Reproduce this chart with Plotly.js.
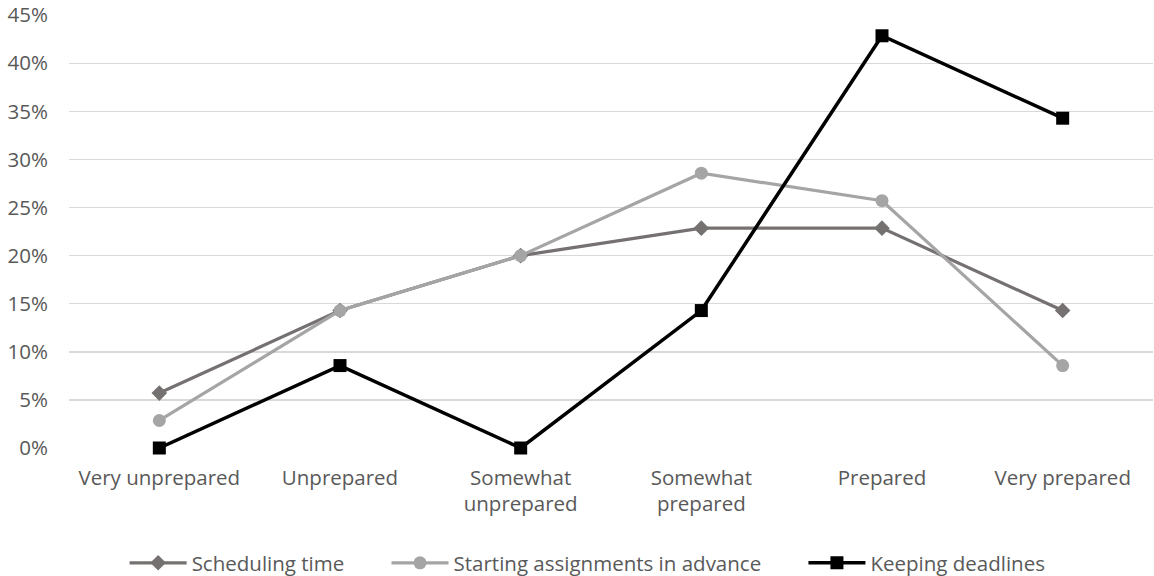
<!DOCTYPE html>
<html><head><meta charset="utf-8">
<script src="https://cdn.plot.ly/plotly-3.0.1.min.js"></script>
<style>html,body{margin:0;padding:0;background:#fff}#chart{width:1154px;height:576px}</style>
</head><body><div id="chart"></div>
<script>
const categories = ["Very unprepared", "Unprepared", "Somewhat<br>unprepared", "Somewhat<br>prepared", "Prepared", "Very prepared"];
const schedulingTime = [0.0571, 0.1429, 0.2000, 0.2286, 0.2286, 0.1429];
const startingAssignments = [0.0286, 0.1429, 0.2000, 0.2857, 0.2571, 0.0857];
const keepingDeadlines = [0.0000, 0.0857, 0.0000, 0.1429, 0.4286, 0.3429];
const seriesNames = ["Scheduling time", "Starting assignments in advance", "Keeping deadlines"];
const yTicks = [0, 0.05, 0.10, 0.15, 0.20, 0.25, 0.30, 0.35, 0.40, 0.45];

const PAD = '\u00a0'.repeat(7);
const traces = [
  {x: categories, y: schedulingTime, name: seriesNames[0] + PAD, type: 'scatter', mode: 'lines+markers',
   line: {color: '#767171', width: 3.2}, marker: {symbol: 'diamond', size: 12, color: '#767171'}},
  {x: categories, y: startingAssignments, name: seriesNames[1] + PAD, type: 'scatter', mode: 'lines+markers',
   line: {color: '#a5a5a5', width: 3.2}, marker: {symbol: 'circle', size: 13, color: '#a5a5a5'}},
  {x: categories, y: keepingDeadlines, name: seriesNames[2], type: 'scatter', mode: 'lines+markers',
   line: {color: '#000000', width: 3.5}, marker: {symbol: 'square', size: 13, color: '#000000'}}
];
const FS = 20.5;
const layout = {
  width: 1154, height: 576,
  margin: {l: 69, r: 1, t: 15, b: 128, autoexpand: false},
  paper_bgcolor: '#fff', plot_bgcolor: '#fff',
  font: {family: 'Open Sans, Liberation Sans, sans-serif', size: FS, color: '#595959'},
  showlegend: true,
  legend: {orientation: 'h', x: 0.108, xanchor: 'left', xref: 'container', y: 0.0226, yref: 'container', yanchor: 'middle',
           font: {size: FS, color: '#595959'}, itemwidth: 57, traceorder: 'normal'},
  xaxis: {type: 'category', range: [-0.5, 5.5], showgrid: false, zeroline: false, showline: false, automargin: false,
          ticks: '', ticklabelstandoff: 15, tickfont: {size: FS, color: '#595959'}, fixedrange: true},
  yaxis: {range: [0, 0.4502], tickvals: yTicks, tickformat: '.0%', showgrid: true, gridcolor: '#d9d9d9', automargin: false,
          gridwidth: 1.5, zeroline: false, showline: false, ticks: '', ticklabelstandoff: 20, ticklabeloverflow: 'allow',
          tickfont: {size: FS, color: '#595959'}, fixedrange: true}
};
traces.forEach(t => t.cliponaxis = false);
Plotly.newPlot('chart', traces, layout, {displayModeBar: false, staticPlot: true});
</script></body></html>
